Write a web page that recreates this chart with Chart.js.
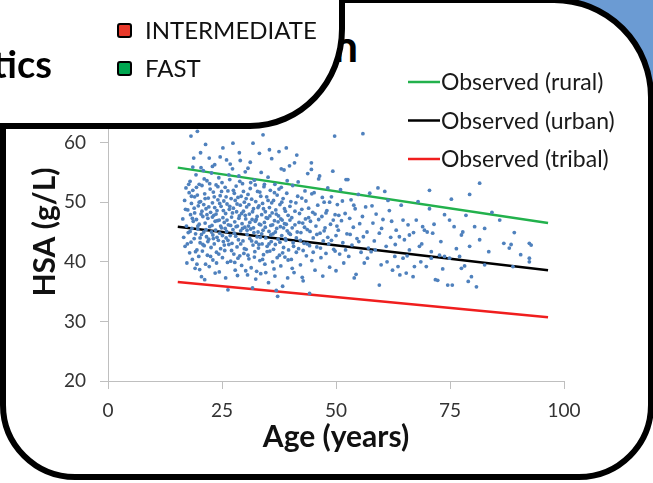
<!DOCTYPE html>
<html>
<head>
<meta charset="utf-8">
<script src="https://cdn.jsdelivr.net/npm/chart.js@4.4.1/dist/chart.umd.min.js"></script>
<style>
html, body { margin: 0; padding: 0; background: #fff; overflow: hidden; }
#stage { position: relative; width: 653px; height: 483px; overflow: hidden; background: #fff; font-family: Lato, sans-serif; }
#corner { position: absolute; left: 530px; top: 0; width: 123px; height: 130px; background: #6b9bd3; z-index: 0; }
#panel { position: absolute; left: 0; top: -3px; width: 642px; height: 471px; background: #fff;
  border: 6px solid #000; border-radius: 60px 100px 75px 75px; z-index: 1; }
#title { position: absolute; right: 295px; top: 23px; font-size: 44px; line-height: 44px; font-weight: bold; color: #000; z-index: 2; white-space: nowrap; }
#myChart { position: absolute; left: 0; top: 0; z-index: 3; }
#keybox { position: absolute; left: -8px; top: -8px; width: 341px; height: 125px; background: #fff;
  border: 6px solid #000; border-bottom-right-radius: 95px 100px; z-index: 4; }
#tics { position: absolute; right: 601px; top: 44px; font-size: 38px; line-height: 38px; font-weight: bold; color: #000; z-index: 5; }
.swatch { position: absolute; left: 117px; width: 11px; height: 11px; border: 2.5px solid #000; border-radius: 3px; z-index: 5; }
.keytext { position: absolute; left: 145px; font-size: 24px; line-height: 24px; color: #111; z-index: 5; }
</style>
</head>
<body>
<div id="stage">
  <div id="corner"></div>
  <div id="panel"></div>
  <div id="title">n</div>
  <canvas id="myChart" width="653" height="483"></canvas>
  <div id="keybox"></div>
  <div id="tics">tics</div>
  <div class="swatch" style="top:23px;background:#e8392b"></div>
  <div class="keytext" style="top:18px">INTERMEDIATE</div>
  <div class="swatch" style="top:61px;background:#00a650"></div>
  <div class="keytext" style="top:56px">FAST</div>
</div>
<script>
// tick values
var ageTicks = [0, 25, 50, 75, 100];
var hsaTicks = [20, 30, 40, 50, 60, 70];

// observed trend lines (age, HSA g/L)
var trendAges = [15.3, 96.5];
var ruralHsa = [55.8, 46.5];
var urbanHsa = [45.9, 38.6];
var tribalHsa = [36.6, 30.7];
var trendLabels = ["Observed (rural)", "Observed (urban)", "Observed (tribal)"];
var trendColors = ["#22b14c", "#000000", "#f01e1e"];

// individual samples [age, HSA]
var samples16to21 = [[16.4,47.2],[16.6,44.1],[16.8,50.3],[16.9,42.6],[17.1,52.4],[17.2,46.0],[17.3,39.8],[17.5,48.7],[17.6,44.9],[17.8,51.6],
  [17.9,41.5],[18.0,53.5],[18.1,47.9],[18.2,61.1],[18.2,43.3],[18.3,49.8],[18.4,45.6],[18.5,40.4],[18.6,52.0],[18.7,46.8],
  [18.8,57.4],[18.9,43.9],[19.0,50.9],[19.0,48.2],[19.1,38.9],[19.2,44.7],[19.3,54.6],[19.4,47.1],[19.5,42.0],[19.6,61.9],
  [19.6,51.2],[19.7,45.5],[19.8,49.4],[19.9,40.9],[20.0,53.0],[20.0,46.3],[20.1,38.7],[20.2,43.2],[20.3,50.1],[20.4,48.0],
  [20.5,37.5],[20.5,44.6],[20.6,52.8],[20.7,41.8],[20.8,47.6],[20.9,55.3],[21.0,45.0],[21.0,49.6],[21.1,42.7],[21.2,51.4]];
var samples21to26 = [[21.3,46.5],[21.4,59.7],[21.4,39.6],[21.5,48.9],[21.6,44.2],[21.7,53.6],[21.8,41.1],[21.9,47.3],[22.0,50.7],[22.1,43.8],
  [22.2,57.4],[22.2,39.2],[22.3,45.9],[22.4,52.2],[22.5,48.3],[22.6,42.4],[22.7,54.9],[22.8,46.1],[22.9,49.9],[23.0,40.3],
  [23.0,44.5],[23.1,51.7],[23.2,47.8],[23.3,43.0],[23.4,56.3],[23.4,49.1],[23.5,38.1],[23.6,45.3],[23.7,52.9],[23.8,41.6],
  [23.9,48.6],[24.0,46.9],[24.1,50.4],[24.2,43.6],[24.3,54.1],[24.4,38.3],[24.4,47.0],[24.5,44.8],[24.6,51.1],[24.7,42.2],
  [24.8,49.3],[24.9,45.7],[25.0,53.3],[25.1,40.7],[25.2,59.1],[25.2,47.4],[25.3,43.4],[25.4,50.2],[25.5,46.6],[25.6,41.9]];
var samples26to30 = [[25.7,52.5],[25.8,48.1],[25.9,44.0],[26.0,57.1],[26.0,45.1],[26.1,49.7],[26.2,39.9],[26.3,35.3],[26.3,51.9],[26.4,46.2],
  [26.5,42.9],[26.6,48.8],[26.7,53.8],[26.8,44.4],[26.9,40.1],[27.0,50.6],[27.1,47.5],[27.2,43.1],[27.3,55.6],[27.4,59.9],
  [27.4,45.4],[27.5,49.0],[27.6,41.3],[27.7,51.5],[27.8,46.7],[27.9,38.6],[28.0,44.3],[28.1,52.7],[28.2,48.4],[28.3,42.5],
  [28.4,37.7],[28.4,46.0],[28.5,50.8],[28.6,43.7],[28.7,54.4],[28.8,58.3],[28.8,47.7],[28.9,41.0],[29.0,49.5],[29.1,45.2],
  [29.2,51.0],[29.3,39.4],[29.4,46.4],[29.5,53.1],[29.6,43.5],[29.7,48.5],[29.8,41.4],[29.9,50.0],[30.0,45.8],[30.1,55.1]];
var samples30to35 = [[30.2,47.2],[30.3,42.1],[30.4,49.2],[30.5,44.6],[30.6,37.8],[30.7,55.7],[30.7,51.3],[30.8,46.0],[30.9,40.5],[31.0,48.0],
  [31.1,43.9],[31.2,52.3],[31.3,45.5],[31.4,39.0],[31.5,50.5],[31.6,47.1],[31.7,35.6],[31.8,59.9],[31.8,42.8],[31.9,48.9],
  [32.0,44.9],[32.1,53.7],[32.2,41.7],[32.3,46.8],[32.4,50.1],[32.5,43.3],[32.6,38.4],[32.7,47.6],[32.8,51.8],[32.9,45.0],
  [33.0,42.3],[33.1,49.4],[33.2,58.2],[33.2,46.3],[33.3,40.2],[33.4,44.1],[33.5,38.0],[33.5,51.0],[33.6,55.0],[33.7,47.9],
  [33.8,43.0],[33.9,49.8],[34.0,61.3],[34.0,45.3],[34.1,41.2],[34.2,52.6],[34.3,46.6],[34.4,39.6],[34.5,48.4],[34.6,44.0],
  [34.8,50.9],[34.9,42.6]];
var samples35to40 = [[35.0,47.3],[35.1,54.2],[35.2,36.5],[35.3,45.1],[35.4,49.1],[35.5,41.8],[35.6,52.0],[35.7,46.1],[35.8,43.4],[35.9,57.3],
  [36.0,48.2],[36.1,40.0],[36.2,44.7],[36.3,50.3],[36.4,38.8],[36.5,46.9],[36.6,53.0],[36.7,42.9],[36.8,48.7],[36.9,35.2],
  [37.0,45.6],[37.1,51.2],[37.2,34.2],[37.3,43.8],[37.4,47.7],[37.5,58.5],[37.6,41.1],[37.7,49.6],[37.8,45.9],[37.9,39.3],
  [38.0,52.5],[38.1,44.4],[38.2,47.0],[38.3,35.9],[38.4,50.6],[38.5,42.4],[38.6,55.4],[38.7,46.4],[38.8,40.8],[38.9,48.5],
  [39.0,43.6],[39.1,59.1],[39.2,51.5],[39.3,45.2],[39.4,37.3],[39.5,47.8],[39.6,42.0],[39.8,56.1],[39.9,49.3]];
var samples40to50 = [[40.0,44.6],[40.2,40.4],[40.3,47.4],[40.5,52.8],[40.6,43.2],[40.8,38.2],[40.9,56.6],[41.0,46.2],[41.2,49.9],[41.3,41.6],
  [41.5,45.0],[41.7,53.4],[41.8,42.2],[42.0,48.1],[42.2,39.5],[42.3,44.9],[42.5,50.7],[42.7,46.5],[42.8,36.8],[43.0,43.1],
  [43.2,51.9],[43.3,47.2],[43.5,41.0],[43.7,45.4],[43.8,54.8],[44.0,49.0],[44.2,42.7],[44.2,34.7],[44.4,46.8],[44.6,56.6],
  [44.6,55.5],[44.7,40.2],[44.9,48.3],[45.0,44.0],[45.2,51.6],[45.4,38.6],[45.6,46.0],[45.8,42.5],[46.0,49.5],[46.2,53.9],
  [46.4,54.4],[46.5,44.8],[46.7,40.7],[46.9,47.6],[47.1,37.6],[47.2,43.5],[47.4,50.0],[47.6,45.7],[47.8,41.4],[48.0,48.6],
  [48.2,52.4],[48.4,43.0],[48.6,39.1],[48.8,46.3],[49.0,50.9],[49.3,55.2],[49.5,42.1],[49.7,61.1],[49.8,47.9],[50.0,38.5],
  [50.0,44.4]];
var samples50to65 = [[50.3,49.6],[50.5,45.3],[50.8,41.3],[51.0,52.1],[51.2,46.9],[51.5,43.2],[51.7,39.8],[52.0,48.1],[52.2,53.8],[52.4,44.7],
  [52.6,53.8],[52.8,40.9],[53.0,47.3],[53.3,50.4],[53.5,42.8],[53.8,45.8],[54.0,37.3],[54.2,48.9],[54.4,37.9],[54.6,43.9],
  [54.9,51.3],[55.2,46.4],[55.5,41.6],[55.9,61.5],[56.0,44.2],[56.2,39.8],[56.5,49.2],[56.8,45.0],[57.1,42.3],[57.4,51.5],
  [57.7,41.7],[58.1,46.5],[58.4,43.5],[58.8,48.0],[59.2,52.4],[59.5,44.8],[59.5,36.1],[59.9,39.5],[60.3,47.1],[60.7,51.8],
  [61.0,42.6],[61.4,50.3],[61.7,48.6],[62.0,44.1],[62.4,38.6],[62.9,40.9],[63.2,45.3],[63.6,39.2],[63.9,44.2],[64.3,49.5],
  [64.7,47.0],[64.7,40.6]];
var samples65to95 = [[65.0,43.7],[65.4,38.1],[65.8,46.2],[66.1,44.5],[66.1,42.0],[66.9,37.5],[67.2,39.2],[67.6,47.0],[68.0,50.1],[68.3,42.6],
  [68.6,40.0],[69.0,45.9],[69.4,45.3],[69.8,39.2],[70.0,45.0],[70.5,48.9],[70.5,52.0],[70.9,40.6],[70.9,41.7],[71.2,44.8],
  [71.8,37.0],[72.3,36.9],[72.7,41.1],[73.0,43.4],[73.8,47.9],[73.8,40.9],[74.5,36.1],[74.9,47.0],[74.9,40.6],[75.3,50.5],
  [75.5,36.1],[75.9,45.9],[76.4,42.2],[77.1,40.9],[77.5,44.5],[77.5,38.9],[77.8,45.0],[78.2,39.3],[78.5,47.8],[79.0,36.7],
  [79.3,51.3],[79.3,42.6],[79.7,37.5],[80.4,45.9],[80.8,35.8],[81.5,53.2],[81.5,43.7],[82.6,45.6],[82.6,39.5],[83.5,41.7],
  [84.2,48.3],[85.9,47.0],[86.8,43.1],[88.0,42.3],[88.4,42.9],[88.8,39.2],[89.1,44.9],[90.5,41.2],[92.4,43.1],[92.4,40.6],
  [92.4,40.0],[92.8,42.8]];
// extra samples in the dense core and its edges
var samplesCore = [[17.0,48.8],[17.4,43.0],[17.7,53.0],[18.0,45.1],[18.3,51.0],[18.5,47.3],[18.9,49.0],[19.2,41.7],[19.4,52.5],[19.7,46.0],
  [20.0,50.0],[20.2,44.0],[20.4,55.8],[20.6,48.5],[20.8,42.9],[21.1,53.9],[21.3,50.6],[21.5,45.4],[21.7,47.9],[21.9,43.4],
  [22.1,49.2],[22.3,53.1],[22.5,40.9],[22.7,45.0],[22.9,47.5],[23.1,43.9],[23.3,50.9],[23.5,46.8],[23.7,48.0],[23.9,44.1],
  [24.1,52.6],[24.3,41.3],[24.5,49.8],[24.7,46.0],[24.9,51.8],[25.1,44.4],[25.3,48.6],[25.5,42.8],[25.7,45.6],[25.9,50.9],
  [26.1,47.0],[26.3,43.6],[26.5,54.6],[26.7,49.3],[26.9,46.1],[27.1,41.9],[27.3,48.2],[27.5,52.0],[27.7,44.8],[27.9,50.3],
  [28.1,45.9],[28.3,49.7],[28.5,40.6],[28.7,47.3],[28.9,53.5],[29.1,43.0],[29.3,48.1],[29.5,45.6],[29.7,51.8],[29.9,42.2],
  [30.1,47.8],[30.3,50.6],[30.5,45.3],[30.7,41.1],[30.9,49.6],[31.1,46.6],[31.3,53.3],[31.5,43.5],[31.7,48.4],[31.9,45.7],
  [32.1,40.8],[32.3,52.9],[32.5,47.1],[32.7,44.2],[32.9,49.1],[33.1,42.9],[33.3,51.7],[33.5,46.2],[33.7,44.7],[33.9,40.4],
  [34.1,48.9],[34.3,53.0],[34.5,45.8],[34.7,47.4],[34.9,41.7],[35.1,50.3],[35.3,43.0],[35.5,47.7],[35.7,44.5],[35.9,49.9],
  [36.1,46.2],[36.3,42.1],[36.5,51.6],[36.7,45.0],[36.9,48.0],[37.1,40.7],[37.3,46.7],[37.5,52.2],[37.7,43.3],[37.9,47.2],
  [38.1,50.0],[38.3,41.5],[38.5,45.7],[38.7,48.9],[38.9,43.9],[39.1,46.3],[39.3,53.6],[39.5,40.3],[39.7,44.8],[39.9,47.0],
  [40.1,50.1],[40.4,45.7],[40.7,42.6],[41.0,48.5],[41.3,44.0],[41.6,51.0],[41.9,46.6],[42.2,43.6],[42.5,48.8],[42.8,41.9],
  [43.1,45.8],[43.4,50.2],[43.7,43.0],[44.0,47.4],[44.3,45.1],[44.7,51.4],[45.0,41.6],[45.4,48.0],[45.8,44.6],[46.2,47.1],
  [46.6,42.3],[47.0,50.8],[47.4,45.2],[47.8,48.2],[48.2,44.1],[48.6,50.0],[49.0,43.6],[49.4,47.0],[49.8,41.8],[50.2,46.0],
  [18.6,55.9],[20.3,58.3],[22.9,56.0],[24.6,57.6],[26.8,56.4],[29.0,57.0],[31.2,56.7],[35.4,58.8],[38.0,55.6],[41.4,57.9],
  [19.5,39.6],[21.2,37.0],[23.8,39.8],[25.8,37.3],[27.8,39.9],[30.2,38.5],[32.4,37.1],[34.6,38.2],[36.6,37.6],[40.4,38.9],
  [42.6,37.4],[50.6,47.8],[51.4,50.2],[52.1,42.0],[53.1,44.6],[53.9,49.5],[55.0,43.4],[55.8,47.6],[56.9,40.6],[57.9,49.4],
  [58.6,42.0],[60.0,45.6],[61.2,40.0],[62.2,46.8],[63.0,42.9],[64.0,37.8],[65.6,41.0],[67.0,44.9],[68.8,43.0],[71.5,46.3],
  [73.4,38.8]];

var allSamples = [].concat(samples16to21, samples21to26, samples26to30, samples30to35,
  samples35to40, samples40to50, samples50to65, samples65to95, samplesCore);

function toXY(pairs) {
  return pairs.map(function (p) { return { x: p[0], y: p[1] }; });
}
function trend(values) {
  return trendAges.map(function (a, i) { return { x: a, y: values[i] }; });
}

// legend drawn inside the plot, top right
var lineLegend = {
  id: 'lineLegend',
  afterDraw: function (chart) {
    var ctx = chart.ctx;
    ctx.save();
    ctx.font = '23px Lato';
    ctx.textBaseline = 'middle';
    ctx.textAlign = 'left';
    for (var i = 0; i < trendLabels.length; i++) {
      var y = 82 + i * 38.5;
      ctx.strokeStyle = trendColors[i];
      ctx.lineWidth = 2.5;
      ctx.beginPath();
      ctx.moveTo(408, y);
      ctx.lineTo(440, y);
      ctx.stroke();
      ctx.fillStyle = '#1a1a1a';
      ctx.fillText(trendLabels[i], 441, y + 1);
    }
    ctx.restore();
  }
};

var axisFont = { family: 'Lato', size: 19 };
var titleFont = { family: 'Lato', size: 30, weight: 'bold' };

var hsaChart = new Chart(document.getElementById("myChart"), {
  type: 'scatter',
  data: {
    datasets: [{
      label: 'Samples',
      data: toXY(allSamples),
      backgroundColor: '#4f81bd',
      borderColor: '#4f81bd',
      borderWidth: 0,
      pointRadius: 1.9,
      order: 0
    }, {
      label: trendLabels[0],
      data: trend(ruralHsa),
      showLine: true,
      borderColor: trendColors[0],
      borderWidth: 2.5,
      pointRadius: 0,
      order: 1
    }, {
      label: trendLabels[1],
      data: trend(urbanHsa),
      showLine: true,
      borderColor: trendColors[1],
      borderWidth: 2.5,
      pointRadius: 0,
      order: 1
    }, {
      label: trendLabels[2],
      data: trend(tribalHsa),
      showLine: true,
      borderColor: trendColors[2],
      borderWidth: 2.5,
      pointRadius: 0,
      order: 1
    }]
  },
  options: {
    responsive: false,
    animation: false,
    layout: { padding: { top: 83, right: 89, left: 0, bottom: 0 } },
    plugins: { legend: { display: false }, tooltip: { enabled: false } },
    scales: {
      x: {
        type: 'linear',
        min: 0,
        max: 100,
        afterBuildTicks: function (s) { s.ticks = ageTicks.map(function (v) { return { value: v }; }); },
        afterFit: function (s) { s.height = 102; },
        ticks: { font: axisFont, color: '#333', padding: 10 },
        grid: { drawOnChartArea: false, tickLength: 8, color: '#bfbfbf' },
        border: { color: '#bfbfbf' },
        title: { display: true, text: 'Age (years)', font: titleFont, color: '#111', padding: { top: 0, bottom: 28 } }
      },
      y: {
        min: 20,
        max: 70,
        afterBuildTicks: function (s) { s.ticks = hsaTicks.map(function (v) { return { value: v }; }); },
        afterFit: function (s) { s.width = 108; },
        ticks: { font: axisFont, color: '#333', padding: 14 },
        grid: { drawOnChartArea: false, tickLength: 8, color: '#bfbfbf' },
        border: { color: '#bfbfbf' },
        title: { display: true, text: 'HSA (g/L)', font: titleFont, color: '#111', padding: { top: 27, bottom: 0 } }
      }
    }
  },
  plugins: [lineLegend]
});
</script>
</body>
</html>
